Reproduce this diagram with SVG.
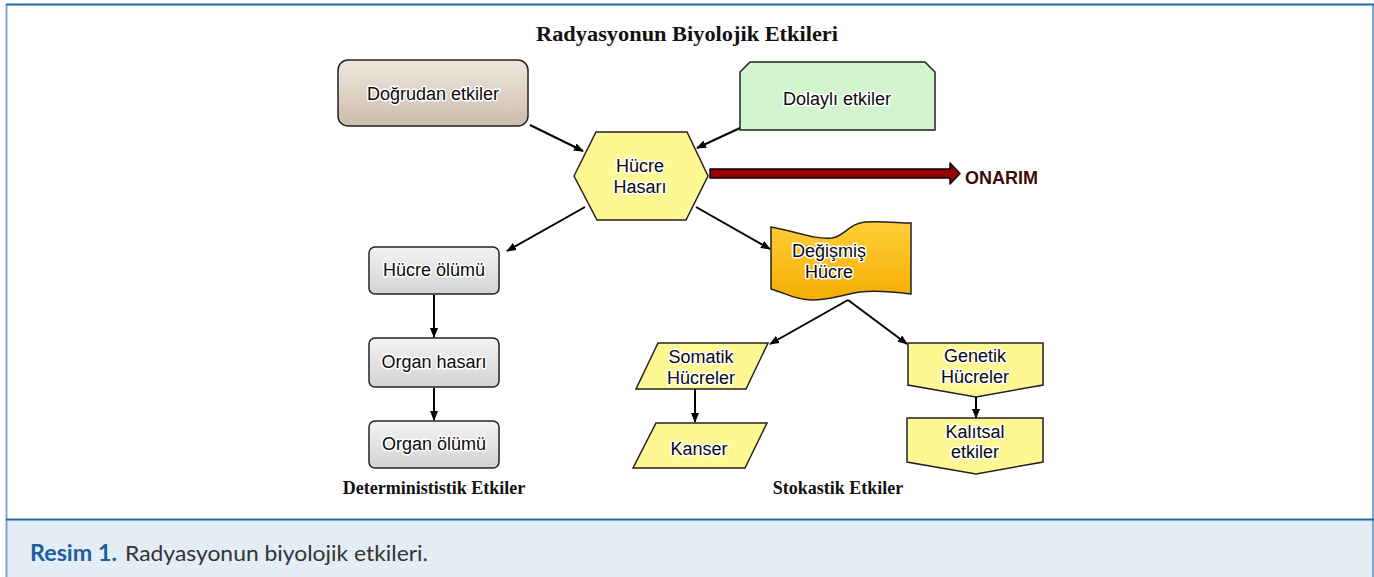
<svg xmlns="http://www.w3.org/2000/svg" width="1374" height="577" viewBox="0 0 1374 577">
<defs>
<linearGradient id="gBeige" x1="0" y1="0" x2="0" y2="1"><stop offset="0" stop-color="#efe7de"/><stop offset="1" stop-color="#cdbcac"/></linearGradient>
<linearGradient id="gGray" x1="0" y1="0" x2="0" y2="1"><stop offset="0" stop-color="#f4f4f4"/><stop offset="1" stop-color="#d2d2d2"/></linearGradient>
<linearGradient id="gOrange" x1="0" y1="0" x2="0" y2="1"><stop offset="0" stop-color="#ffcf3a"/><stop offset="1" stop-color="#f5ad00"/></linearGradient>
<marker id="ah" viewBox="0 0 10 10" refX="9" refY="5" markerUnits="userSpaceOnUse" markerWidth="10" markerHeight="10" orient="auto"><path d="M0,1 L10,5 L0,9 z" fill="#000"/></marker>
</defs>
<style>
.t{font-family:"Liberation Sans",Arial,sans-serif;font-size:18px;fill:#0a0a0a;text-anchor:middle;stroke:#fff;stroke-width:3px;stroke-linejoin:round;paint-order:stroke}
.h{font-family:"Liberation Serif","Times New Roman",serif;font-weight:bold;fill:#111;text-anchor:middle}
.sh{stroke:#222;stroke-width:1.5}
.c{stroke:#000;stroke-width:2;fill:none;marker-end:url(#ah)}
</style>
<rect x="0" y="0" width="1374" height="577" fill="#fff"/>
<rect x="6" y="520" width="1368" height="57" fill="#e4ecf5"/>
<line x1="6.5" y1="4" x2="6.5" y2="577" stroke="#7ea8d2" stroke-width="2"/>
<line x1="1373" y1="4" x2="1373" y2="577" stroke="#7ea8d2" stroke-width="2"/>
<line x1="6" y1="4.5" x2="1374" y2="4.5" stroke="#2466a8" stroke-width="2"/>
<line x1="6" y1="519.5" x2="1374" y2="519.5" stroke="#2466a8" stroke-width="2"/>
<text x="30" y="561" font-family="Lato,'Open Sans',sans-serif" font-size="22" font-weight="bold" fill="#1c5f9e" textLength="87" lengthAdjust="spacingAndGlyphs">Resim 1.</text>
<text x="125" y="561" font-family="Lato,'Open Sans',sans-serif" font-size="22" fill="#333" textLength="303" lengthAdjust="spacingAndGlyphs">Radyasyonun biyolojik etkileri.</text>

<text class="h" x="687" y="41" font-size="20" textLength="302" lengthAdjust="spacingAndGlyphs">Radyasyonun Biyolojik Etkileri</text>
<text class="h" x="434" y="494" font-size="18">Determinististik Etkiler</text>
<text class="h" x="838" y="494" font-size="18">Stokastik Etkiler</text>

<g id="dogrudan">
<rect x="338" y="60" width="190" height="66" rx="10" fill="url(#gBeige)" class="sh"/>
<text class="t" x="433" y="100">Doğrudan etkiler</text>
</g>
<g id="dolayli">
<path d="M750,62 L925,62 L935,72 L935,130 L740,130 L740,72 Z" fill="#d2f5cf" class="sh"/>
<text class="t" x="837" y="105">Dolaylı etkiler</text>
</g>
<g id="hucre-hasari">
<path d="M574,176 L596,132 L687,132 L708,176 L686,220 L597,220 Z" fill="#fdf892" class="sh"/>
<text class="t" x="640" y="172">Hücre</text>
<text class="t" x="640" y="193">Hasarı</text>
</g>
<g id="onarim">
<path d="M710,169 L950,169 L950,163 L960,173.5 L950,184 L950,178 L710,178 Z" fill="#9a0000" stroke="#000" stroke-width="1.5" stroke-linejoin="round"/>
<text x="965" y="184" font-family="'Liberation Sans',Arial,sans-serif" font-size="18" font-weight="bold" fill="#3c0808">ONARIM</text>
</g>
<g id="hucre-olumu">
<rect x="369" y="247" width="130" height="47" rx="6" fill="url(#gGray)" class="sh"/>
<text class="t" x="434" y="276">Hücre ölümü</text>
</g>
<g id="organ-hasari">
<rect x="369" y="338" width="130" height="49" rx="6" fill="url(#gGray)" class="sh"/>
<text class="t" x="434" y="368">Organ hasarı</text>
</g>
<g id="organ-olumu">
<rect x="369" y="421" width="130" height="47" rx="6" fill="url(#gGray)" class="sh"/>
<text class="t" x="434" y="450">Organ ölümü</text>
</g>
<g id="degismis">
<path d="M771,227 C795,231 815,240 832,238 C845,236 848,224 865,222 C885,221 898,223 911,223 L911,294 C895,292 878,290 860,292 C845,294 830,300 812,300 C795,300 785,293 771,289 Z" fill="url(#gOrange)" class="sh"/>
<text class="t" x="829" y="257">Değişmiş</text>
<text class="t" x="829" y="278">Hücre</text>
</g>
<g id="somatik">
<path d="M658,343 L768,343 L746,389 L636,389 Z" fill="#fdf892" class="sh"/>
<text class="t" x="701" y="363">Somatik</text>
<text class="t" x="701" y="384">Hücreler</text>
</g>
<g id="kanser">
<path d="M656,423 L767,423 L745,468 L633,468 Z" fill="#fdf892" class="sh"/>
<text class="t" x="699" y="455">Kanser</text>
</g>
<g id="genetik">
<path d="M908,343 L1043,343 L1043,385 L976,397 L908,385 Z" fill="#fdf892" class="sh"/>
<text class="t" x="975" y="362">Genetik</text>
<text class="t" x="975" y="383">Hücreler</text>
</g>
<g id="kalitsal">
<path d="M907,418 L1043,418 L1043,462 L976,474 L907,462 Z" fill="#fdf892" class="sh"/>
<text class="t" x="975" y="438">Kalıtsal</text>
<text class="t" x="975" y="458">etkiler</text>
</g>

<g id="connectors">
<line class="c" x1="530" y1="125" x2="583" y2="151"/>
<line class="c" x1="740" y1="128" x2="697" y2="148"/>
<line class="c" x1="585" y1="207" x2="507" y2="251"/>
<line class="c" x1="696" y1="207" x2="770" y2="249"/>
<line class="c" x1="434" y1="295" x2="434" y2="337"/>
<line class="c" x1="434" y1="388" x2="434" y2="420"/>
<line class="c" x1="848" y1="300" x2="770" y2="344"/>
<line class="c" x1="848" y1="300" x2="907" y2="344"/>
<line class="c" x1="695" y1="389" x2="695" y2="422"/>
<line class="c" x1="976" y1="397" x2="976" y2="418"/>
</g>
</svg>
